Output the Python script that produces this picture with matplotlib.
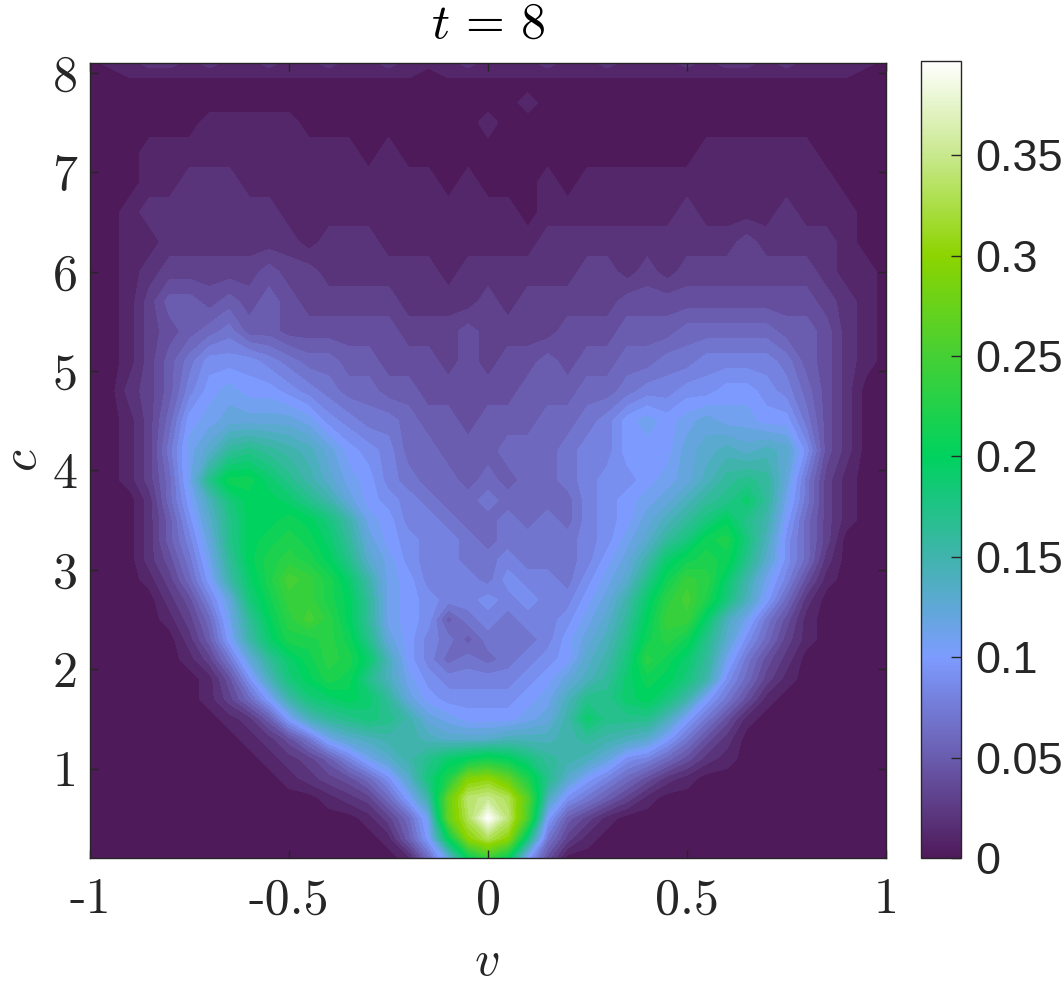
import numpy as np
import matplotlib
matplotlib.use('Agg')
import matplotlib.pyplot as plt
from matplotlib.colors import LinearSegmentedColormap, Normalize
from matplotlib.cm import ScalarMappable

plt.rcParams['mathtext.fontset'] = 'cm'
plt.rcParams['axes.unicode_minus'] = False

v_grid = [k / 20 for k in range(-20, 21)]
c_grid = [0.1, 0.3, 0.5, 0.7, 0.9, 1.1, 1.3, 1.5, 1.7, 1.9, 2.1, 2.3, 2.5, 2.7, 2.9, 3.1, 3.3, 3.5, 3.7, 3.9,
          4.2, 4.5, 4.8, 5.1, 5.4, 5.7, 6.0, 6.3, 6.6, 6.9, 7.2, 7.5, 7.7, 7.9, 8.0, 8.1]

# density, in units of 0.01, one row per c value
dens = [
    [0]*16 + [1,6,12,20,24,20,10,4] + [0]*17,
    [0]*15 + [1,5,10,20,30,33,30,18,7,3,1] + [0]*15,
    [0]*14 + [1,3,6,11,27,33,39.7,34,25,10,5,3,1] + [0]*14,
    [0]*12 + [1,2,3,6,10,15,27,34,35,33,26,14,9,7,5,3,1] + [0]*12,
    [0]*10 + [1,2,3,4,6,9,13,18,22,29,30,27,22,17,13,10,8,6,4,2,1] + [0]*10,
    [0]*9 + [1,2,3,5,8,11,13,15,17,19,20,21,20,18,16,15,14,12,9,8,6,4,2,1] + [0]*8,
    [0]*8 + [1,2,4,7,11,13,14,15,15,14,13,13,13,14,14,14,15,16,15,14,13,10,7,4,2] + [0]*8,
    [0]*7 + [1,2,5,10,14,16,17,18,17,15,12,11,10,10,10,11,12,15,19,17,17,17,14,10,7,4,1] + [0]*7,
    [0]*6 + [1,3,6,10,15,18,19,20,19,16,12,10,9,9,9,9,10,11,14,17,17,19,20,18,15,10,7,4,1] + [0]*6,
    [0]*6 + [1,4,9,14,18,20,22,21,17,14,11,9,8,8,8,8,9,10,12,14,16,19,21,20,18,15,9,6,3,1] + [0]*5,
    [0]*5 + [1,3,7,12,16,19,21,23,22,19,14,10,8,6,7,6,7,8,9,10,13,15,18,23,21,19,16,11,7,4,2] + [0]*5,
    [0]*5 + [2,5,10,15,19,22,22,23,21,17,12,10,8,7,5,7,7,7,8,10,12,14,17,21,23,21,17,13,9,6,3,1] + [0]*4,
    [0]*4 + [1,3,6,11,16,20,23,25,23,20,16,11,10,9,5,7,8,7,8,8,9,11,13,16,20,24,24,19,14,11,7,4,1] + [0]*4,
    [0]*4 + [2,4,8,12,18,21,24,24,22,20,16,11,10,9,8,8,9,8,9,8,8,10,12,15,19,23,25,22,18,14,10,6,2] + [0]*4,
    [0]*3 + [1,3,6,10,15,19,22,25,24,22,19,15,11,10,8,8,8,7,9,8,8,7,9,11,13,17,21,24,23,19,15,11,8,4,1] + [0]*3,
    [0]*3 + [2,4,7,11,16,20,22,23,22,20,17,13,11,9,8,8,7,7,8,7,7,7,8,10,12,15,19,21,22,21,17,13,9,6,2] + [0]*3,
    [0]*3 + [2,5,8,12,17,20,21,22,21,19,16,12,10,9,8,8,7,6,7,7,7,7,8,9,11,13,16,18,21,22,18,14,9,6,3] + [0]*3,
    [0]*3 + [2,5,9,13,17,20,20,21,20,18,15,11,10,8,8,7,6,6,7,6,7,6,8,9,10,12,14,16,18,20,17,15,10,6,3,1] + [0]*2,
    [0]*3 + [2,6,10,14,18,20,20,19,17,15,12,10,9,8,7,6,6,7,6,6,6,6,8,9,10,11,12,14,16,17,19,16,11,7,3,1] + [0]*2,
    [0]*2 + [1,3,6,11,17,21,21,19,17,15,13,11,10,8,7,6,6,5,6,5,6,6,7,8,9,9,10,11,12,14,16,17,16,12,7,3,1] + [0]*2,
    [0]*2 + [1,3,7,11,13,16,17,16,15,14,12,10,9,8,6,6,5,5,5,6,6,6,7,8,8,10,10,10,12,13,14,13,14,13,9,4,2] + [0]*2,
    [0]*2 + [1,3,6,10,11,12,12,12,12,11,9,8,7,7,6,5,5,4,5,5,5,6,6,7,8,10,11,10,11,12,11,11,10,10,7,4,2] + [0]*2,
    [0]*2 + [2,3,5,8,10,11,10,10,9,8,7,6,6,5,5,4,4,4,4,4,5,5,5,6,6,7,8,8,9,9,10,10,9,8,6,4,2] + [0]*2,
    [0]*2 + [1,3,5,7,9,9,9,8,7,6,6,5,5,4,4,4,3,4,3,4,4,5,4,5,5,6,6,7,7,8,8,8,8,7,5,4,2,1] + [0],
    [0]*2 + [1,3,4,5,6,7,5,5,4,4,4,4,4,4,3,3,3,4,3,3,3,3,4,4,4,5,5,5,6,6,6,6,6,5,5,4,2,1] + [0],
    [0]*2 + [1,3,5,5,4,5,4,5,4,3,3,3,3,3,2,2,2,2,3,2,3,3,3,3,3,4,4,4,4,4,4,4,4,4,4,3,2,1] + [0],
    [0]*2 + [1,2,3,3,3,3,3,4,3,3,2,2,2,2,2,2,1,2,2,2,2,2,2,3,3,2,3,2,3,3,3,3,3,3,3,2,1,1] + [0],
    [0]*2 + [1,1,2,2,2,2,2,2,2,1,2,2,2,1,1,1,1,1,1,1,1,2,2,2,2,2,2,2,2,2,2,3,2,2,2,2,1] + [0]*2,
    [0]*2 + [1,2,2,2,2,2,2,2,1,1,1,1,1,1,1,1,1,1,1,1,0,1,1,1,1,1,1,1,2,1,1,1,1,2,1,1,1] + [0]*2,
    [0]*3 + [1,1,2,2,2,1,1,1,1,1,1,1,1,1,1,0,1,0,0,0,1,0,1,1,1,1,1,1,1,1,1,1,1,1,1] + [0]*3,
    [0]*3 + [1]*11 + [0,1] + [0]*15 + [1]*6 + [0]*4,
    [0]*6 + [1]*5 + [0]*9 + [1] + [0]*20,
    [0]*22 + [1] + [0]*18,
    [0]*41,
    [0]*2 + [1]*15 + [0] + [1]*21 + [0]*2,
    [0,1,1,2,2,1,2,1,1,2,1,1,2,1,1,2,1,1,1,2,1,1,1,2,1,1,2,1,1,1,2,1,2,2,1,2,1,1,1,1,0],
]

x_ticks = [-1, -0.5, 0, 0.5, 1]
x_labels = ['-1', '-0.5', '0', '0.5', '1']
y_ticks = [1, 2, 3, 4, 5, 6, 7, 8]
cb_ticks = [0, 0.05, 0.1, 0.15, 0.2, 0.25, 0.3, 0.35]
cb_labels = ['0', '0.05', '0.1', '0.15', '0.2', '0.25', '0.3', '0.35']
z_max = 0.397

cmap = LinearSegmentedColormap.from_list('kde', [
    (0.0, '#4f1a5a'),
    (0.05 / z_max, '#6a5cae'),
    (0.1 / z_max, '#7d9cff'),
    (0.15 / z_max, '#40b4ac'),
    (0.2 / z_max, '#00d25f'),
    (0.25 / z_max, '#45d035'),
    (0.3 / z_max, '#8cd400'),
    (0.35 / z_max, '#c8e88c'),
    (1.0, '#ffffff'),
], N=512)
norm = Normalize(0, z_max)

dark = '#262626'
W, H = 1062, 982
fig = plt.figure(figsize=(W / 100, H / 100), dpi=100)
ax = fig.add_axes([90 / W, (H - 858) / H, 796 / W, 795 / H])

Z = np.array(dens) / 100
levels = np.arange(-0.005, 0.41, 0.01)
ax.contourf(v_grid, c_grid, Z, levels=levels, cmap=cmap, norm=norm)
ax.set_xlim(-1, 1)
ax.set_ylim(0.1, 8.1)

ax.set_xticks(x_ticks)
ax.set_xticklabels(x_labels, fontfamily='cmr10', fontsize=36, color=dark)
ax.set_yticks(y_ticks)
ax.set_yticklabels([str(y) for y in y_ticks], fontfamily='cmr10', fontsize=36, color=dark)
ax.tick_params(direction='in', top=True, right=True, length=6, width=1, color=dark)
ax.tick_params(axis='x', pad=14)
ax.tick_params(axis='y', pad=9)
for s in ax.spines.values():
    s.set_linewidth(1)
    s.set_color(dark)

fig.text(488 / W, 1 - 38 / H, r'$t\,=\,8$', fontsize=36, ha='center', va='baseline', color='black')
fig.text(487 / W, 1 - 975 / H, r'$v$', fontsize=36, ha='center', va='baseline', color=dark)
fig.text(22 / W, 1 - 460 / H, r'$c$', fontsize=36, ha='center', va='center', rotation=90, color=dark)

cax = fig.add_axes([921 / W, (H - 858) / H, 40 / W, 797 / H])
cb = fig.colorbar(ScalarMappable(norm=norm, cmap=cmap), cax=cax)
cb.set_ticks(cb_ticks)
cb.set_ticklabels(cb_labels)
cax.tick_params(direction='in', length=7, width=1, color=dark, pad=10, labelsize=32.5, labelcolor=dark)
for label in cax.get_yticklabels():
    label.set_fontfamily('Liberation Sans')
cb.outline.set_linewidth(1)
cb.outline.set_edgecolor(dark)

fig.savefig('out.png', dpi=100)
